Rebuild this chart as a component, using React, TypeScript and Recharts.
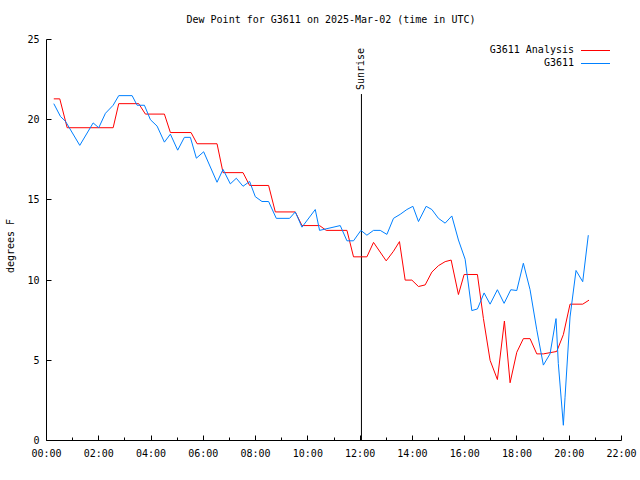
import React from 'react';
import {
  LineChart,
  Line,
  XAxis,
  YAxis,
  Legend,
  ReferenceLine
} from 'recharts';

// hours since 00:00 UTC, dew point in degrees F
const analysisTimes = [
  0.279, 0.508, 0.791, 2.55, 2.764, 3.528, 3.784, 4.511, 4.74, 5.531, 5.761, 6.525,
  6.755, 7.519, 7.771, 8.498, 8.754, 9.518, 9.775, 10.447, 10.703, 11.495, 11.747, 12.259,
  12.512, 12.997, 13.276, 13.505, 13.723, 13.979, 14.232, 14.488, 14.744, 14.996, 15.252, 15.482,
  15.761, 15.979, 16.487, 16.717, 16.972, 17.252, 17.52, 17.737, 17.993, 18.245, 18.502, 18.758,
  19.01, 19.522, 19.775, 20.031, 20.516, 20.757
];
const analysisValues = [
  21.3, 21.3, 19.5, 19.5, 21.0, 21.0, 20.35, 20.35, 19.2, 19.2, 18.5, 18.5,
  16.7, 16.7, 15.9, 15.9, 14.25, 14.25, 13.4, 13.4, 13.1, 13.1, 11.45, 11.45,
  12.35, 11.2, 11.8, 12.4, 10.0, 10.0, 9.6, 9.7, 10.5, 10.9, 11.15, 11.25,
  9.1, 10.35, 10.35, 7.6, 5.0, 3.8, 7.45, 3.6, 5.5, 6.35, 6.35, 5.4,
  5.4, 5.55, 6.6, 8.5, 8.5, 8.75
];

const stationTimes = [
  0.279, 0.535, 0.726, 1.273, 1.785, 1.999, 2.255, 2.55, 2.764, 3.276, 3.467, 3.746,
  3.976, 4.232, 4.511, 4.74, 5.019, 5.275, 5.505, 5.734, 6.013, 6.525, 6.755, 7.034,
  7.263, 7.519, 7.771, 7.989, 8.245, 8.498, 8.792, 9.3, 9.518, 9.775, 10.283, 10.447,
  11.239, 11.495, 11.747, 12.03, 12.259, 12.512, 12.768, 13.024, 13.276, 13.532, 13.788, 14.018,
  14.232, 14.526, 14.744, 14.996, 15.252, 15.508, 15.761, 16.017, 16.273, 16.487, 16.743, 16.972,
  17.252, 17.508, 17.764, 17.993, 18.245, 18.502, 18.758, 19.01, 19.266, 19.495, 19.583, 19.775,
  19.84, 20.031, 20.26, 20.516, 20.73
];
const stationValues = [
  21.0, 20.2, 19.9, 18.4, 19.8, 19.5, 20.4, 20.9, 21.5, 21.5, 20.9, 20.9,
  20.0, 19.6, 18.6, 19.1, 18.1, 18.9, 18.9, 17.6, 18.0, 16.1, 16.9, 16.0,
  16.35, 15.85, 16.15, 15.2, 14.9, 14.9, 13.85, 13.85, 14.25, 13.3, 14.4, 13.1,
  13.4, 12.45, 12.45, 13.1, 12.8, 13.1, 13.1, 12.85, 13.85, 14.1, 14.4, 14.6,
  13.65, 14.6, 14.4, 13.85, 13.55, 14.0, 12.5, 11.3, 8.1, 8.2, 9.2, 8.5,
  9.4, 8.55, 9.4, 9.35, 11.05, 9.4, 6.9, 4.7, 5.4, 7.6, 4.8, 0.95,
  2.7, 7.7, 10.6, 9.9, 12.8
];

const hourTicks = [0, 1, 2, 3, 4, 5, 6, 7, 8, 9, 10, 11, 12, 13, 14, 15, 16, 17, 18, 19, 20, 21, 22];
const degreeTicks = [0, 5, 10, 15, 20, 25];
const seriesNames = ['G3611 Analysis', 'G3611'];

const sunriseTime = 12.05;
const sunriseTop = 21.6;

const analysisData = analysisTimes.map((t, i) => ({ t, v: analysisValues[i] }));
const stationData = stationTimes.map((t, i) => ({ t, v: stationValues[i] }));

const FONT = '"DejaVu Sans Mono", "Liberation Mono", monospace';
const snap = (v: number) => Math.round(v - 0.5) + 0.5;
const hh = (h: number) => `${String(h).padStart(2, '0')}:00`;

const BottomTick = ({ x, y, payload }: any) => {
  const major = payload.value % 2 === 0;
  const px = snap(x);
  return (
    <g>
      <line x1={px} x2={px} y1={y} y2={y - (major ? 5 : 3)} stroke="#000" />
      {major && (
        <text x={x} y={y + 16} textAnchor="middle" fontFamily={FONT} fontSize={10} fill="#000">
          {hh(payload.value)}
        </text>
      )}
    </g>
  );
};

const TopTick = ({ x, y, payload }: any) => {
  const major = payload.value % 2 === 0;
  const px = snap(x);
  return <line x1={px} x2={px} y1={y} y2={y + (major ? 5 : 3)} stroke="#000" />;
};

const LeftTick = ({ x, y, payload }: any) => {
  const py = snap(y);
  return (
    <g>
      <line x1={x} x2={x + 5} y1={py} y2={py} stroke="#000" />
      <text x={x - 7} y={y + 3.5} textAnchor="end" fontFamily={FONT} fontSize={10} fill="#000">
        {payload.value}
      </text>
    </g>
  );
};

const RightTick = ({ x, y }: any) => {
  const py = snap(y);
  return <line x1={x} x2={x - 5} y1={py} y2={py} stroke="#000" />;
};

const YLabel = ({ viewBox }: any) => {
  const cx = 14;
  const cy = viewBox.y + viewBox.height / 2 + 6;
  return (
    <text
      x={cx}
      y={cy}
      transform={`rotate(-90 ${cx} ${cy})`}
      textAnchor="middle"
      fontFamily={FONT}
      fontSize={10}
      fill="#000"
    >
      degrees F
    </text>
  );
};

const SunriseLabel = ({ viewBox }: any) => {
  const lx = viewBox.x + 3;
  const ly = viewBox.y - 4;
  return (
    <text
      x={lx}
      y={ly}
      transform={`rotate(-90 ${lx} ${ly})`}
      textAnchor="start"
      fontFamily={FONT}
      fontSize={10}
      fill="#000"
    >
      Sunrise
    </text>
  );
};

const LegendBox = ({ payload }: any) => {
  const items = [...(payload || [])].sort(
    (a: any, b: any) => seriesNames.indexOf(a.value) - seriesNames.indexOf(b.value)
  );
  return (
    <div style={{ position: 'relative', height: 26, fontFamily: FONT, fontSize: 10, color: '#000' }}>
      {items.map((entry: any, i: number) => (
        <React.Fragment key={entry.value}>
          <div
            style={{
              position: 'absolute',
              left: 0,
              top: i * 12.7,
              width: 574,
              textAlign: 'right',
              lineHeight: '12px',
              whiteSpace: 'pre'
            }}
          >
            {entry.value}
          </div>
          <div
            style={{
              position: 'absolute',
              left: 581,
              top: i * 12.7 + 6,
              width: 29,
              height: 1,
              background: entry.color
            }}
          />
        </React.Fragment>
      ))}
    </div>
  );
};

const App: React.FC = () => {
  return (
    <div style={{ position: 'absolute', left: 0, top: 0, width: 640, height: 480, background: '#fff' }}>
      <div
        style={{
          position: 'absolute',
          left: 11,
          top: 14,
          width: 640,
          textAlign: 'center',
          fontFamily: FONT,
          fontSize: 10,
          lineHeight: '12px',
          whiteSpace: 'pre'
        }}
      >
        Dew Point for G3611 on 2025-Mar-02 (time in UTC)
      </div>
      <LineChart width={640} height={480} margin={{ top: 39.5, right: 18.5, left: 0, bottom: 0 }}>
        <XAxis
          xAxisId="b"
          dataKey="t"
          type="number"
          domain={[0, 22]}
          ticks={hourTicks}
          tick={BottomTick}
          tickLine={false}
          tickSize={0}
          tickMargin={0}
          axisLine={{ stroke: '#000' }}
          height={39.5}
          interval={0}
        />
        <XAxis
          xAxisId="top"
          orientation="top"
          dataKey="t"
          type="number"
          domain={[0, 22]}
          ticks={hourTicks}
          tick={TopTick}
          tickLine={false}
          tickSize={0}
          tickMargin={0}
          axisLine={{ stroke: '#000' }}
          height={0}
          interval={0}
        />
        <YAxis
          yAxisId="l"
          type="number"
          domain={[0, 25]}
          ticks={degreeTicks}
          tick={LeftTick}
          tickLine={false}
          tickSize={0}
          tickMargin={0}
          axisLine={{ stroke: '#000' }}
          width={46.5}
          interval={0}
          label={<YLabel />}
        />
        <YAxis
          yAxisId="r"
          orientation="right"
          type="number"
          domain={[0, 25]}
          ticks={degreeTicks}
          tick={RightTick}
          tickLine={false}
          tickSize={0}
          tickMargin={0}
          axisLine={{ stroke: '#000' }}
          width={0}
          interval={0}
        />
        <ReferenceLine
          xAxisId="b"
          yAxisId="l"
          segment={[{ x: sunriseTime, y: sunriseTop }, { x: sunriseTime, y: 0 }]}
          stroke="#000"
          strokeWidth={1}
          ifOverflow="visible"
          label={<SunriseLabel />}
        />
        <Line
          xAxisId="b"
          yAxisId="l"
          data={analysisData}
          dataKey="v"
          name={seriesNames[0]}
          stroke="#ff0000"
          strokeWidth={1}
          dot={false}
          activeDot={false}
          isAnimationActive={false}
        />
        <Line
          xAxisId="b"
          yAxisId="l"
          data={stationData}
          dataKey="v"
          name={seriesNames[1]}
          stroke="#0080ff"
          strokeWidth={1}
          dot={false}
          activeDot={false}
          isAnimationActive={false}
        />
        <Legend
          layout="vertical"
          align="center"
          verticalAlign="middle"
          content={<LegendBox />}
          wrapperStyle={{ top: 44, left: 0, width: 640, height: 26 }}
        />
      </LineChart>
    </div>
  );
};

export default App;
